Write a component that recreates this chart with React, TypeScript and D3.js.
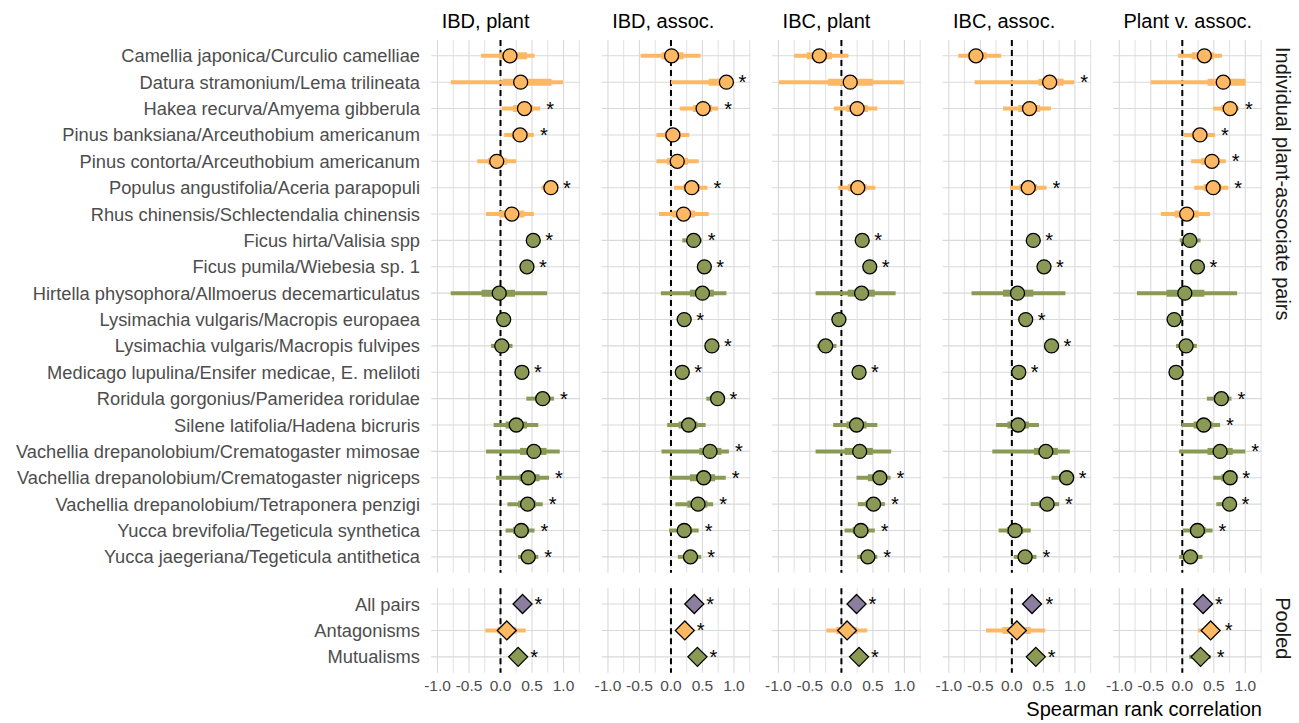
import React from "react";
import * as d3 from "d3";

const pairs = [
  "Camellia japonica/Curculio camelliae",
  "Datura stramonium/Lema trilineata",
  "Hakea recurva/Amyema gibberula",
  "Pinus banksiana/Arceuthobium americanum",
  "Pinus contorta/Arceuthobium americanum",
  "Populus angustifolia/Aceria parapopuli",
  "Rhus chinensis/Schlectendalia chinensis",
  "Ficus hirta/Valisia spp",
  "Ficus pumila/Wiebesia sp. 1",
  "Hirtella physophora/Allmoerus decemarticulatus",
  "Lysimachia vulgaris/Macropis europaea",
  "Lysimachia vulgaris/Macropis fulvipes",
  "Medicago lupulina/Ensifer medicae, E. meliloti",
  "Roridula gorgonius/Pameridea roridulae",
  "Silene latifolia/Hadena bicruris",
  "Vachellia drepanolobium/Crematogaster mimosae",
  "Vachellia drepanolobium/Crematogaster nigriceps",
  "Vachellia drepanolobium/Tetraponera penzigi",
  "Yucca brevifolia/Tegeticula synthetica",
  "Yucca jaegeriana/Tegeticula antithetica",
];
// A = antagonism, M = mutualism
const pairType = ["A","A","A","A","A","A","A","M","M","M","M","M","M","M","M","M","M","M","M","M"];

const panelTitles = ["IBD, plant", "IBD, assoc.", "IBC, plant", "IBC, assoc.", "Plant v. assoc."];

// [estimate, lo95, hi95, lo66, hi66, significant]
type Row = [number, number, number, number, number, number] | null;

const ibdPlant: Row[] = [
  [0.15, -0.31, 0.54, -0.02, 0.42, 0],
  [0.32, -0.79, 0.99, 0.03, 0.81, 0],
  [0.38, 0.02, 0.63, 0.2, 0.52, 1],
  [0.31, 0.06, 0.53, 0.18, 0.44, 1],
  [-0.06, -0.37, 0.25, -0.2, 0.1, 0],
  [0.80, 0.65, 0.89, 0.72, 0.85, 1],
  [0.18, -0.23, 0.53, -0.02, 0.38, 0],
  [0.52, 0.46, 0.57, 0.49, 0.55, 1],
  [0.42, 0.37, 0.47, 0.4, 0.45, 1],
  [-0.02, -0.79, 0.74, -0.3, 0.23, 0],
  [0.05, 0.02, 0.08, 0.03, 0.07, 0],
  [0.02, -0.15, 0.19, -0.06, 0.1, 0],
  [0.34, 0.3, 0.38, 0.32, 0.36, 1],
  [0.67, 0.41, 0.85, 0.56, 0.77, 1],
  [0.25, -0.11, 0.6, 0.08, 0.42, 0],
  [0.53, -0.23, 0.94, 0.31, 0.73, 0],
  [0.44, -0.07, 0.77, 0.3, 0.62, 1],
  [0.43, 0.11, 0.67, 0.28, 0.56, 1],
  [0.33, 0.08, 0.54, 0.2, 0.45, 1],
  [0.44, 0.28, 0.6, 0.36, 0.52, 1],
];

const ibdAssoc: Row[] = [
  [0.01, -0.48, 0.47, -0.15, 0.2, 0],
  [0.88, 0.0, 0.94, 0.6, 0.93, 1],
  [0.51, 0.14, 0.75, 0.35, 0.65, 1],
  [0.03, -0.23, 0.29, -0.1, 0.16, 0],
  [0.10, -0.23, 0.44, -0.06, 0.27, 0],
  [0.33, 0.05, 0.58, 0.2, 0.46, 1],
  [0.20, -0.19, 0.6, 0.02, 0.38, 0],
  [0.36, 0.18, 0.49, 0.28, 0.44, 1],
  [0.53, 0.49, 0.57, 0.51, 0.55, 1],
  [0.50, -0.16, 0.88, 0.3, 0.68, 0],
  [0.21, 0.17, 0.25, 0.19, 0.23, 1],
  [0.65, 0.61, 0.69, 0.63, 0.67, 1],
  [0.18, 0.14, 0.22, 0.16, 0.2, 1],
  [0.74, 0.56, 0.8, 0.66, 0.78, 1],
  [0.28, -0.06, 0.55, 0.12, 0.42, 0],
  [0.62, -0.15, 0.92, 0.45, 0.8, 1],
  [0.52, -0.02, 0.87, 0.3, 0.7, 1],
  [0.43, 0.07, 0.67, 0.26, 0.58, 1],
  [0.21, -0.03, 0.44, 0.1, 0.33, 1],
  [0.31, 0.11, 0.48, 0.2, 0.4, 1],
];

const ibcPlant: Row[] = [
  [-0.35, -0.75, 0.11, -0.55, -0.15, 0],
  [0.14, -0.99, 0.99, -0.21, 0.5, 0],
  [0.25, -0.12, 0.57, 0.08, 0.42, 0],
  null,
  null,
  [0.26, -0.05, 0.54, 0.1, 0.4, 0],
  null,
  [0.33, 0.22, 0.4, 0.27, 0.37, 1],
  [0.45, 0.41, 0.49, 0.43, 0.47, 1],
  [0.32, -0.41, 0.86, 0.1, 0.53, 0],
  [-0.04, -0.07, -0.01, -0.05, -0.03, 0],
  [-0.25, -0.39, -0.08, -0.32, -0.16, 0],
  [0.28, 0.24, 0.32, 0.26, 0.3, 1],
  null,
  [0.24, -0.13, 0.57, 0.08, 0.4, 0],
  [0.29, -0.41, 0.79, 0.05, 0.5, 0],
  [0.61, 0.24, 0.78, 0.42, 0.72, 1],
  [0.51, 0.26, 0.69, 0.38, 0.62, 1],
  [0.31, 0.05, 0.53, 0.18, 0.43, 1],
  [0.42, 0.25, 0.57, 0.33, 0.5, 1],
];

const ibcAssoc: Row[] = [
  [-0.57, -0.85, -0.17, -0.7, -0.4, 0],
  [0.60, -0.59, 0.99, 0.42, 0.82, 1],
  [0.28, -0.14, 0.62, 0.1, 0.45, 0],
  null,
  null,
  [0.26, -0.03, 0.55, 0.12, 0.4, 1],
  null,
  [0.34, 0.26, 0.42, 0.3, 0.38, 1],
  [0.51, 0.47, 0.55, 0.49, 0.53, 1],
  [0.09, -0.64, 0.85, -0.14, 0.34, 0],
  [0.22, 0.18, 0.26, 0.2, 0.24, 1],
  [0.63, 0.59, 0.67, 0.61, 0.65, 1],
  [0.11, 0.07, 0.15, 0.09, 0.13, 1],
  null,
  [0.10, -0.25, 0.43, -0.07, 0.27, 0],
  [0.54, -0.31, 0.92, 0.35, 0.73, 0],
  [0.87, 0.63, 0.92, 0.75, 0.9, 1],
  [0.56, 0.3, 0.75, 0.43, 0.67, 1],
  [0.05, -0.21, 0.3, -0.08, 0.18, 0],
  [0.21, 0.03, 0.39, 0.12, 0.3, 1],
];

const plantVAssoc: Row[] = [
  [0.35, -0.07, 0.63, 0.15, 0.5, 0],
  [0.65, -0.5, 1.0, 0.4, 1.0, 0],
  [0.76, 0.49, 0.9, 0.62, 0.84, 1],
  [0.28, 0.02, 0.52, 0.15, 0.4, 1],
  [0.47, 0.14, 0.69, 0.3, 0.6, 1],
  [0.49, 0.19, 0.73, 0.34, 0.62, 1],
  [0.07, -0.34, 0.44, -0.12, 0.26, 0],
  [0.12, -0.04, 0.29, 0.04, 0.2, 0],
  [0.24, 0.2, 0.28, 0.22, 0.26, 1],
  [0.04, -0.72, 0.87, -0.25, 0.35, 0],
  [-0.13, -0.17, -0.09, -0.15, -0.11, 0],
  [0.06, -0.1, 0.23, -0.02, 0.15, 0],
  [-0.10, -0.14, -0.06, -0.12, -0.08, 0],
  [0.62, 0.39, 0.78, 0.5, 0.7, 1],
  [0.34, -0.01, 0.6, 0.18, 0.48, 1],
  [0.60, -0.05, 1.0, 0.4, 0.8, 1],
  [0.76, 0.49, 0.85, 0.62, 0.82, 1],
  [0.75, 0.54, 0.82, 0.65, 0.8, 1],
  [0.24, 0.01, 0.48, 0.12, 0.37, 1],
  [0.13, -0.05, 0.32, 0.04, 0.22, 0],
];

const pooledGroups = ["All pairs", "Antagonisms", "Mutualisms"];
const pooledType = ["P", "A", "M"];
const pooledIbdPlant: Row[] = [
  [0.35, 0.3, 0.42, 0.32, 0.38, 1],
  [0.10, -0.24, 0.4, -0.05, 0.25, 0],
  [0.28, 0.23, 0.36, 0.25, 0.32, 1],
];
const pooledIbdAssoc: Row[] = [
  [0.37, 0.32, 0.44, 0.34, 0.4, 1],
  [0.22, 0.15, 0.3, 0.18, 0.26, 1],
  [0.42, 0.36, 0.48, 0.39, 0.45, 1],
];
const pooledIbcPlant: Row[] = [
  [0.24, 0.19, 0.31, 0.21, 0.27, 1],
  [0.09, -0.24, 0.41, -0.08, 0.25, 0],
  [0.28, 0.22, 0.36, 0.25, 0.32, 1],
];
const pooledIbcAssoc: Row[] = [
  [0.32, 0.2, 0.44, 0.26, 0.38, 1],
  [0.08, -0.41, 0.53, -0.15, 0.3, 0],
  [0.38, 0.24, 0.46, 0.31, 0.43, 1],
];
const pooledPlantVAssoc: Row[] = [
  [0.33, 0.28, 0.4, 0.3, 0.36, 1],
  [0.45, 0.25, 0.58, 0.35, 0.52, 1],
  [0.29, 0.11, 0.45, 0.2, 0.38, 1],
];

const panelRows = [ibdPlant, ibdAssoc, ibcPlant, ibcAssoc, plantVAssoc];
const panelPooled = [pooledIbdPlant, pooledIbdAssoc, pooledIbcPlant, pooledIbcAssoc, pooledPlantVAssoc];

const xTicks = [-1.0, -0.5, 0.0, 0.5, 1.0];
const xMinor = [-0.75, -0.25, 0.25, 0.75, 1.25];

const COLORS: Record<string, string> = { A: "#FDB863", M: "#8A9A55", P: "#8C7E9F" };
const FONT = "'Liberation Sans', Arial, sans-serif";

const W = 1299;
const H = 723;
const PANEL_LEFT = 431.2;
const PANEL_W = 148.7;
const PANEL_STEP = 170.45;
const TOP_Y0 = 40;
const TOP_Y1 = 572.7;
const BOT_Y0 = 588.2;
const BOT_Y1 = 672.7;

export default function App() {
  const yTop = d3.scalePoint<string>().domain(pairs).range([TOP_Y0, TOP_Y1]).padding(0.6);
  const yBot = d3.scalePoint<string>().domain(pooledGroups).range([BOT_Y0, BOT_Y1]).padding(0.6);

  const renderMarks = (
    rows: Row[],
    names: string[],
    types: string[],
    y: d3.ScalePoint<string>,
    x: d3.ScaleLinear<number, number>,
    shape: "circle" | "diamond",
    key: string
  ) =>
    rows.map((r, i) => {
      if (!r) return null;
      const [est, lo, hi, lo66, hi66, sig] = r;
      const cy = y(names[i]) as number;
      const cx = x(est);
      const col = COLORS[types[i]];
      return (
        <g key={key + i}>
          <line x1={x(lo)} x2={x(hi)} y1={cy} y2={cy} stroke={col} strokeWidth={4} />
          <line x1={x(lo66)} x2={x(hi66)} y1={cy} y2={cy} stroke={col} strokeWidth={7} />
          {shape === "circle" ? (
            <circle cx={cx} cy={cy} r={7} fill={col} stroke="#000" strokeWidth={1.3} />
          ) : (
            <path
              d={`M${cx},${cy - 9.5}L${cx + 9.5},${cy}L${cx},${cy + 9.5}L${cx - 9.5},${cy}Z`}
              fill={col}
              stroke="#000"
              strokeWidth={1.3}
            />
          )}
          {sig ? (
            <text x={Math.max(x(hi), cx + 6) + 6} y={cy + 7} fontSize={20} fontFamily={FONT} fill="#000">
              *
            </text>
          ) : null}
        </g>
      );
    });

  const renderGrid = (
    x: d3.ScaleLinear<number, number>,
    y: d3.ScalePoint<string>,
    names: string[],
    y0: number,
    y1: number,
    left: number,
    right: number,
    key: string
  ) => (
    <g key={key}>
      {xMinor.map((t) => (
        <line key={"mn" + t} x1={x(t)} x2={x(t)} y1={y0} y2={y1} stroke="#dedede" strokeWidth={0.9} />
      ))}
      {xTicks.map((t) => (
        <line key={"mj" + t} x1={x(t)} x2={x(t)} y1={y0} y2={y1} stroke="#d9d9d9" strokeWidth={1.1} />
      ))}
      {names.map((n) => (
        <line key={"h" + n} x1={left} x2={right} y1={y(n)} y2={y(n)} stroke="#d9d9d9" strokeWidth={1.1} />
      ))}
      <line x1={x(0)} x2={x(0)} y1={y0} y2={y1} stroke="#000" strokeWidth={2} strokeDasharray="6,4" />
    </g>
  );

  return (
    <svg width={W} height={H} style={{ position: "absolute", left: 0, top: 0, background: "#fff" }}>
      {/* y-axis labels */}
      {pairs.map((p) => (
        <text key={p} x={420} y={(yTop(p) as number) + 6.5} textAnchor="end" fontSize={18.3} fontFamily={FONT} fill="#4d4d4d">
          {p}
        </text>
      ))}
      {pooledGroups.map((p) => (
        <text key={p} x={420} y={(yBot(p) as number) + 6.5} textAnchor="end" fontSize={18.3} fontFamily={FONT} fill="#4d4d4d">
          {p}
        </text>
      ))}
      {panelTitles.map((title, pi) => {
        const left = PANEL_LEFT + pi * PANEL_STEP;
        const right = left + PANEL_W;
        const x = d3.scaleLinear().domain([-1.1, 1.26]).range([left, right]);
        return (
          <g key={title}>
            <text x={left + 10.5} y={27.5} fontSize={20} fontFamily={FONT} fill="#000">
              {title}
            </text>
            {renderGrid(x, yTop, pairs, TOP_Y0, TOP_Y1, left, right, "gt" + pi)}
            {renderGrid(x, yBot, pooledGroups, BOT_Y0, BOT_Y1, left, right, "gb" + pi)}
            {renderMarks(panelRows[pi], pairs, pairType, yTop, x, "circle", "t" + pi)}
            {renderMarks(panelPooled[pi], pooledGroups, pooledType, yBot, x, "diamond", "b" + pi)}
            {xTicks.map((t) => (
              <text key={"tl" + t} x={x(t)} y={691} textAnchor="middle" fontSize={15.5} fontFamily={FONT} fill="#4d4d4d">
                {t.toFixed(1)}
              </text>
            ))}
          </g>
        );
      })}
      {/* right strips */}
      <text
        transform={`translate(1276, ${TOP_Y0 + 7}) rotate(90)`}
        fontSize={20}
        fontFamily={FONT}
        fill="#1a1a1a"
      >
        Individual plant-associate pairs
      </text>
      <text transform={`translate(1276, ${BOT_Y0 + 9}) rotate(90)`} fontSize={20} fontFamily={FONT} fill="#1a1a1a">
        Pooled
      </text>
      <text x={1262} y={716} textAnchor="end" fontSize={20} fontFamily={FONT} fill="#000">
        Spearman rank correlation
      </text>
    </svg>
  );
}
